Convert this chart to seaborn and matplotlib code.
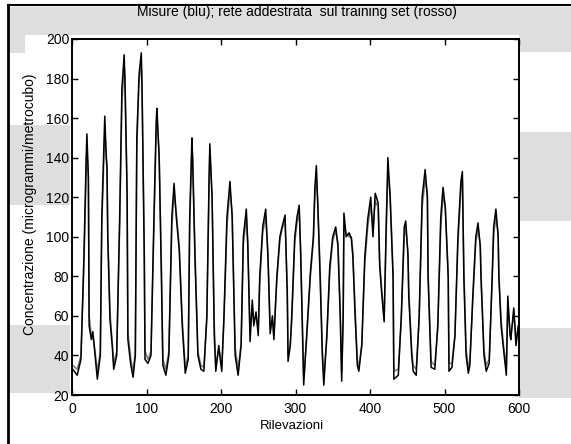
import numpy as np
import pandas as pd
import matplotlib
matplotlib.use('Agg')
import matplotlib.pyplot as plt
import seaborn as sns
from matplotlib.patches import Rectangle
from matplotlib.lines import Line2D

# sample index of each vertex
rilevazioni = [1, 7, 12, 16, 19, 20, 22, 23, 26, 28, 31, 34, 38, 40, 43, 44, 46, 47, 48, 51,
               54, 56, 60, 64, 67, 70, 71, 74, 75, 79, 82, 85, 87, 90, 93, 94, 97, 98, 102, 106,
               110, 113, 114, 117, 120, 122, 126, 130, 134, 137, 140, 144, 148, 152, 156, 158, 161, 162, 165, 169,
               173, 177, 181, 184, 185, 188, 191, 193, 197, 199, 201, 204, 208, 212, 215, 219, 223, 227, 230, 234,
               236, 239, 242, 244, 247, 250, 252, 256, 260, 263, 266, 269, 271, 275, 279, 282, 286, 289, 290, 293,
               295, 299, 302, 305, 307, 310, 311, 315, 320, 324, 326, 328, 330, 333, 336, 338, 342, 346, 350, 354,
               357, 360, 362, 364, 365, 368, 372, 375, 377, 380, 383, 385, 389, 393, 397, 401, 404, 407, 411, 413,
               416, 419, 422, 424, 427, 431, 432, 438, 442, 446, 448, 451, 452, 456, 458, 462, 466, 470, 474, 477,
               478, 482, 487, 491, 495, 498, 501, 505, 506, 510, 514, 518, 522, 524, 526, 529, 532, 534, 538, 542,
               545, 548, 549, 553, 556, 560, 564, 566, 569, 572, 573, 576, 579, 583, 585, 588, 589, 592, 593, 596,
               599]

# misure (blu)
misure = [33, 30, 38, 90, 140, 152, 130, 55, 48, 52, 40, 28, 40, 110, 148, 161, 140, 135, 100, 58,
          45, 33, 40, 110, 175, 192, 180, 120, 48, 35, 29, 40, 150, 182, 193, 175, 90, 38, 36, 40,
          110, 158, 165, 140, 80, 35, 30, 40, 110, 127, 110, 93, 55, 31, 38, 110, 150, 138, 90, 40,
          33, 32, 60, 130, 147, 120, 50, 32, 45, 38, 32, 60, 110, 128, 110, 40, 30, 45, 100, 114,
          95, 47, 68, 55, 62, 50, 80, 105, 114, 90, 51, 60, 48, 80, 100, 105, 111, 70, 37, 45,
          60, 100, 110, 116, 90, 40, 25, 50, 82, 100, 125, 136, 115, 80, 40, 25, 50, 85, 100, 105,
          95, 60, 27, 60, 112, 100, 102, 99, 90, 60, 35, 32, 45, 90, 109, 120, 100, 122, 117, 85,
          70, 57, 110, 140, 120, 79, 28, 30, 60, 105, 108, 90, 70, 40, 32, 30, 60, 120, 134, 120,
          79, 34, 33, 55, 110, 125, 115, 79, 32, 34, 50, 100, 128, 133, 79, 40, 31, 35, 70, 100,
          107, 95, 79, 40, 32, 36, 80, 105, 114, 100, 79, 55, 44, 30, 70, 50, 48, 60, 64, 45,
          55]

# rete addestrata (rosso)
rete = [35, 33, 40, 85, 132, 145, 128, 60, 50, 50, 42, 32, 42, 105, 142, 152, 142, 132, 102, 62,
        46, 36, 42, 105, 168, 186, 182, 125, 52, 38, 32, 42, 145, 178, 188, 178, 95, 42, 38, 42,
        105, 152, 160, 142, 85, 38, 33, 42, 105, 122, 112, 95, 58, 34, 40, 105, 145, 140, 95, 42,
        35, 34, 58, 125, 142, 122, 55, 35, 43, 40, 34, 58, 105, 124, 112, 44, 33, 46, 96, 110,
        97, 52, 65, 58, 60, 53, 76, 102, 110, 92, 55, 58, 50, 78, 98, 104, 108, 74, 40, 46,
        58, 97, 107, 112, 93, 44, 29, 48, 80, 98, 120, 130, 117, 84, 44, 29, 48, 82, 98, 103,
        97, 64, 31, 58, 105, 102, 100, 100, 92, 64, 38, 34, 46, 86, 105, 116, 104, 118, 115, 88,
        72, 60, 104, 134, 122, 82, 32, 33, 58, 100, 105, 92, 74, 43, 35, 33, 58, 115, 129, 122,
        82, 37, 35, 54, 105, 120, 116, 82, 36, 36, 50, 96, 124, 129, 84, 43, 34, 37, 68, 97,
        104, 96, 82, 43, 35, 38, 78, 101, 110, 102, 82, 58, 46, 34, 66, 52, 50, 58, 62, 48,
        54]

xticks = [0, 100, 200, 300, 400, 500, 600]
yticks = [20, 40, 60, 80, 100, 120, 140, 160, 180, 200]

plt.rcParams['font.family'] = ['Liberation Sans', 'DejaVu Sans']

W, H = 571, 444
fig = plt.figure(figsize=(W / 100, H / 100), dpi=100)
fig.patch.set_facecolor('white')

# scanned grey halftone bands in the background
bande = [(10, 7, 571, 35), (10, 35, 25, 53), (519, 35, 571, 52),
         (10, 125, 70, 205), (10, 325, 70, 393),
         (519, 132, 571, 221), (519, 328, 571, 398)]
for x0, y0, x1, y1 in bande:
    fig.patches.append(Rectangle((x0 / W, 1 - y1 / H), (x1 - x0) / W, (y1 - y0) / H,
                                 transform=fig.transFigure, facecolor='#dedede',
                                 edgecolor='none', zorder=-1))
fig.add_artist(Line2D([8 / W, 8 / W], [0, 1 - 5 / H], color='black', lw=2))
fig.add_artist(Line2D([8 / W, 1], [1 - 5 / H, 1 - 5 / H], color='black', lw=1.5))

ax = fig.add_axes([72 / W, 1 - 395 / H, (519 - 72) / W, (395 - 39) / H])
ax.set_zorder(2)
ax.set_facecolor('white')

df = pd.DataFrame({'rilevazione': rilevazioni, 'misure': misure, 'rete': rete})
sns.lineplot(data=df, x='rilevazione', y='rete', ax=ax, color='#7a7a7a', lw=1.1,
             estimator=None, sort=False)
sns.lineplot(data=df, x='rilevazione', y='misure', ax=ax, color='black', lw=1.1,
             estimator=None, sort=False)

ax.set_xlim(0, 600)
ax.set_ylim(20, 200)
ax.set_xticks(xticks)
ax.set_yticks(yticks)
ax.set_xlabel('')
ax.set_ylabel('')
ax.tick_params(direction='in', top=True, right=True, length=4, width=1,
               labelsize=10, colors='black')
ax.tick_params(axis='y', pad=2)
ax.tick_params(axis='x', pad=5)
for s in ax.spines.values():
    s.set_linewidth(1.4)
    s.set_color('black')

fig.text(297 / W, 1 - 12 / H, 'Misure (blu); rete addestrata  sul training set (rosso)',
         ha='center', va='center', fontsize=10, zorder=5)
fig.text(30 / W, 1 - 204 / H, 'Concentrazione (microgrammi/metrocubo)',
         ha='center', va='center', rotation=90, fontsize=10, zorder=5)
fig.text(292 / W, 1 - 426 / H, 'Rilevazioni', ha='center', va='center', fontsize=9.5, zorder=5)

fig.savefig('out.png', dpi=100)
